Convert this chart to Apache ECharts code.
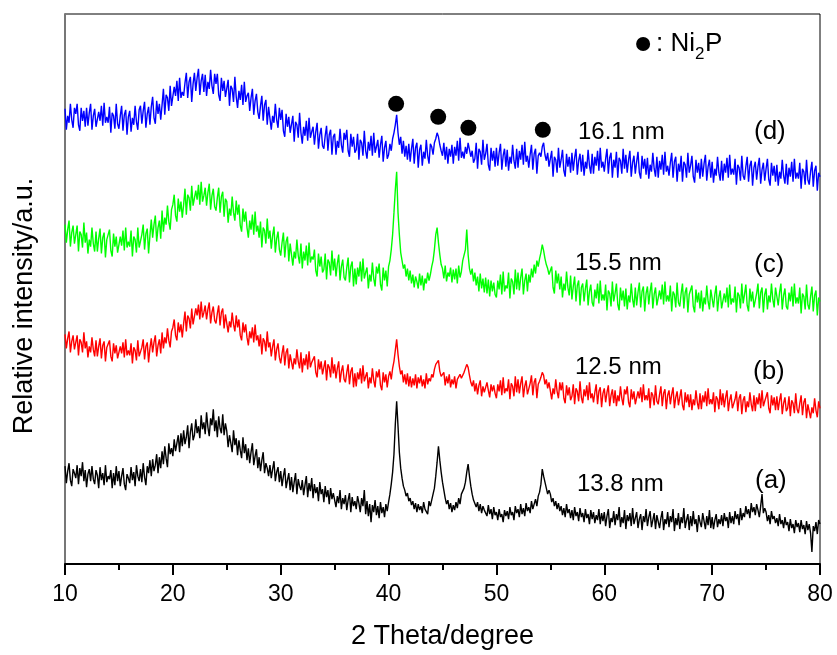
<!DOCTYPE html>
<html><head><meta charset="utf-8">
<script src="https://cdn.jsdelivr.net/npm/echarts@6/dist/echarts.min.js"></script>
<style>html,body{margin:0;padding:0;background:#fff}#c{width:837px;height:655px}</style>
</head><body><div id="c"></div>
<script>
// 2-theta grid: 10..80 deg, step 0.125 deg (8 readings per degree, one line per degree)
const THETA_START = 10, THETA_STEP = 0.125;
const xTicks = [10, 20, 30, 40, 50, 60, 70, 80];

// (a) 13.8 nm - black
const seriesA = [
98,81,93,101,84,78,95,91,
86,99,80,96,88,102,83,94,
77,90,95,83,98,85,80,94,
89,76,97,84,91,79,99,82,
88,85,94,76,91,79,98,83,
93,78,88,96,80,74,90,86,
81,97,84,92,78,99,88,83,
95,82,101,87,79,98,91,104,
88,105,93,99,110,91,107,96,
113,100,118,106,97,121,110,116,
108,125,113,121,129,112,131,118,
134,120,127,139,116,132,141,124,
129,145,131,138,126,149,135,142,
130,152,137,128,146,139,155,133,
144,127,148,136,131,150,129,141,
133,117,129,121,112,134,119,126,
109,124,114,106,127,111,120,104,
116,101,112,121,99,108,115,96,
107,93,104,112,91,101,96,88,
99,86,95,103,83,92,97,82,
93,78,88,96,76,84,91,74,
87,72,82,91,70,85,78,74,
84,69,79,88,67,81,73,86,
66,80,71,77,63,82,70,75,
62,78,67,74,60,76,65,71,
72,57,68,61,74,55,66,60,
69,54,64,71,52,67,58,63,
55,68,61,52,66,58,74,50,
63,48,60,42,59,52,64,49,
58,46,62,51,57,47,60,53,
62,70,80,92,110,140,163,138,
112,96,86,78,74,68,71,63,
66,59,63,55,61,52,60,54,
58,51,62,55,57,50,63,58,
64,70,76,88,102,118,104,92,
82,74,66,60,64,55,61,52,
59,54,62,56,66,60,70,68,
76,82,92,100,88,78,70,64,
66,57,62,53,60,51,58,54,
56,48,59,50,55,45,57,49,
52,44,55,47,50,42,54,48,
53,45,57,49,52,44,58,51,
55,47,60,50,56,48,61,53,
57,51,63,55,60,65,58,68,
72,80,95,88,82,76,70,74,
70,62,66,58,63,55,61,53,
58,49,56,47,60,51,55,46,
54,44,57,48,52,43,56,47,
51,42,55,46,50,40,54,45,
52,41,49,44,55,40,51,43,
52,38,48,55,36,46,42,53,
39,50,44,57,37,47,41,54,
35,49,43,51,38,56,40,46,
52,36,45,50,34,48,42,55,
38,47,53,37,44,51,35,49,
50,36,46,53,34,45,40,52,
37,48,42,55,33,46,39,51,
35,47,41,56,36,44,50,34,
48,38,53,40,45,32,49,42,
37,51,43,35,48,39,54,36,
47,35,44,50,37,45,40,49,
38,51,43,47,36,52,41,48,
40,53,45,50,39,56,44,51,
47,58,50,55,46,61,52,57,
49,60,54,47,58,70,51,56,
52,43,49,40,53,45,48,41,
46,38,50,40,44,36,47,39,
42,33,45,36,40,31,44,37,
41,32,44,35,39,30,43,34,
40,31,12,38,33,42,30,44,
40];

// (b) 12.5 nm - red
const seriesB = [
230,216,226,233,212,223,229,215,
217,229,209,225,222,212,232,216,
223,207,218,212,227,215,208,224,
208,218,226,206,219,223,203,217,
216,224,208,203,221,211,219,206,
204,218,211,222,207,225,209,214,
209,221,201,217,214,204,224,208,
207,217,225,205,218,222,202,216,
226,212,222,229,208,219,225,211,
232,216,227,221,236,224,217,233,
237,245,229,224,242,232,240,227,
241,253,233,249,246,236,256,240,
242,256,249,260,245,263,247,252,
259,245,255,262,241,252,258,244,
241,251,259,239,252,256,236,250,
248,232,243,237,252,240,233,249,
237,245,229,224,242,232,240,227,
219,233,226,237,222,240,224,229,
218,230,210,226,223,213,233,217,
222,208,218,225,204,215,221,207,
201,211,219,199,212,216,196,210,
211,195,206,200,215,203,196,212,
192,206,199,210,195,213,197,202,
200,208,192,187,205,195,203,190,
192,204,184,200,197,187,207,191,
200,186,196,203,182,193,199,185,
182,192,200,180,193,197,177,191,
178,192,185,196,181,199,183,188,
192,176,187,181,196,184,177,193,
187,195,179,174,192,182,190,177,
188,193,185,196,203,214,225,210,
198,190,194,182,190,180,191,178,
188,177,186,179,190,176,187,181,
189,178,185,176,191,180,186,183,
190,187,195,200,198,204,193,188,
186,192,179,188,181,190,177,185,
180,188,176,185,183,190,186,184,
192,196,200,197,189,182,178,184,
173,181,170,179,184,168,178,172,
170,182,174,167,180,173,179,171,
166,180,173,184,169,187,171,176,
173,185,165,181,178,168,188,172,
185,171,181,188,167,178,184,170,
171,181,189,169,182,186,166,180,
183,187,192,189,180,185,176,182,
181,165,176,170,185,173,166,182,
174,182,166,161,179,169,177,164,
168,180,160,176,173,163,183,167,
161,175,168,179,164,182,166,171,
162,172,180,160,173,177,157,171,
176,162,172,179,158,169,175,161,
174,158,169,163,178,166,159,175,
170,178,162,157,175,165,173,160,
159,173,166,177,162,180,164,169,
164,176,156,172,169,159,179,163,
160,170,178,158,171,175,155,169,
174,160,170,177,156,167,173,159,
167,175,159,154,172,162,170,157,
170,154,165,159,174,162,155,171,
155,169,162,173,158,176,160,165,
160,172,152,168,165,155,175,159,
171,157,167,174,153,164,170,156,
155,165,173,153,166,170,150,164,
168,152,163,157,172,160,153,169,
153,167,160,171,156,174,158,163,
164,172,156,151,169,159,167,154,
168,154,164,171,150,161,167,153,
156,168,148,164,161,151,171,155,
151,161,169,149,162,166,146,160,
162,146,157,151,166,154,147,163,
156];

// (c) 15.5 nm - green
const seriesC = [
340,322,335,344,318,332,339,321,
323,339,313,333,330,317,342,322,
332,311,325,318,337,321,313,333,
313,326,336,311,327,332,307,325,
325,335,314,308,331,318,328,312,
311,328,319,334,314,337,317,323,
318,334,308,328,325,312,337,317,
317,330,340,315,331,336,311,329,
345,327,340,349,323,337,344,326,
354,333,347,340,359,343,335,355,
360,370,349,343,366,353,363,347,
360,376,350,370,367,354,379,359,
357,374,365,380,360,383,363,369,
377,359,372,381,355,369,376,358,
354,367,377,352,368,373,348,366,
363,342,356,349,368,352,344,364,
350,360,339,333,356,343,353,337,
327,344,335,350,330,353,333,339,
327,343,317,337,334,321,346,326,
334,316,329,338,312,326,333,315,
309,322,332,307,323,328,303,321,
320,299,313,306,325,309,301,321,
296,313,304,319,299,322,302,308,
305,315,294,288,311,298,308,292,
295,311,285,305,302,289,314,294,
306,288,301,310,284,298,305,287,
284,297,307,282,298,303,278,296,
280,297,288,303,283,306,286,292,
297,276,290,283,302,286,278,298,
291,301,280,274,297,284,294,278,
298,304,315,330,352,375,393,352,
330,312,304,296,300,288,296,284,
294,281,290,277,288,283,276,291,
279,289,274,286,281,292,284,290,
298,304,315,330,337,322,310,300,
296,286,299,283,292,288,297,282,
295,285,296,281,299,287,293,304,
304,315,335,310,296,290,296,283,
292,279,288,273,291,276,286,272,
287,271,285,268,284,273,282,270,
267,284,275,290,270,293,273,279,
276,292,266,286,283,270,295,275,
292,274,287,296,270,284,291,273,
290,282,296,287,300,291,304,298,
306,312,320,314,306,300,296,290,
288,298,277,271,294,281,291,275,
288,267,281,274,293,277,269,289,
265,278,288,263,279,284,259,277,
281,263,276,285,259,273,280,262,
258,275,266,281,261,284,264,270,
264,280,254,274,271,258,283,263,
271,281,260,254,277,264,274,258,
276,255,269,262,281,265,257,277,
259,272,282,257,273,278,253,271,
278,260,273,282,256,270,277,259,
257,274,265,280,260,283,263,269,
263,279,253,273,270,257,282,262,
258,271,281,256,272,277,252,270,
269,279,258,252,275,262,272,256,
274,253,267,260,279,263,255,275,
275,257,270,279,253,267,274,256,
254,271,262,277,257,280,260,266,
262,278,252,272,269,256,281,261,
270,280,259,253,276,263,273,257,
258,271,281,256,272,277,252,270,
276,255,269,262,281,265,257,277,
277,259,272,281,255,269,276,258,
255,272,263,278,258,281,261,267,
261,277,251,271,268,255,280,260,
255,268,278,253,269,274,249,267,
263];

// (d) 16.1 nm - blue
const seriesD = [
456,435,449,442,461,445,437,457,
451,461,440,434,457,444,454,438,
457,439,452,461,435,449,456,438,
436,453,444,459,439,462,442,448,
442,458,432,452,449,436,461,441,
436,449,459,434,450,455,430,448,
454,433,447,440,459,443,435,455,
459,441,454,463,437,451,458,440,
458,468,447,441,464,451,461,445,
460,476,450,470,467,454,479,459,
461,478,469,484,464,487,467,473,
469,482,492,467,483,488,463,481,
492,474,487,496,470,484,491,473,
490,469,483,476,495,479,471,491,
481,491,470,464,487,474,484,468,
469,485,459,479,476,463,488,468,
457,474,465,480,460,483,463,469,
472,454,467,476,450,464,471,453,
446,459,469,444,460,465,440,458,
456,435,449,442,461,445,437,457,
445,455,434,428,451,438,448,432,
433,449,423,443,440,427,452,432,
421,438,429,444,424,447,427,433,
438,420,433,442,416,430,437,419,
416,429,439,414,430,435,410,428,
431,410,424,417,436,420,412,432,
425,435,414,408,431,418,428,412,
415,431,405,425,422,409,434,414,
406,423,414,429,409,432,412,418,
425,407,420,429,403,417,424,406,
410,421,414,426,432,440,450,432,
420,428,411,424,408,419,405,421,
403,416,426,401,417,422,397,415,
420,399,413,406,425,409,401,421,
418,410,422,426,432,428,420,414,
409,422,405,418,401,416,408,420,
401,418,409,424,404,427,407,413,
406,418,411,422,420,408,414,402,
406,422,396,416,413,400,425,405,
411,421,400,394,417,404,414,398,
417,399,412,421,395,409,416,398,
415,394,408,401,420,404,396,416,
397,414,405,420,400,423,403,409,
397,410,420,395,411,416,391,409,
412,408,418,422,410,404,412,398,
398,414,388,408,405,392,417,397,
405,415,394,388,411,398,408,392,
412,394,407,416,390,404,411,393,
410,389,403,396,415,399,391,411,
391,408,399,414,394,417,397,403,
393,406,416,391,407,412,387,405,
397,413,387,407,404,391,416,396,
410,392,405,414,388,402,409,391,
403,413,392,386,409,396,406,390,
407,386,400,393,412,396,388,408,
387,404,395,410,390,413,393,399,
389,402,412,387,403,408,383,401,
393,409,383,403,400,387,412,392,
399,409,388,382,405,392,402,386,
406,388,401,410,384,398,405,387,
403,382,396,389,408,392,384,404,
384,401,392,407,387,410,390,396,
390,406,380,400,397,384,409,389,
385,398,408,383,399,404,379,397,
403,385,398,407,381,395,402,384,
396,406,385,379,402,389,399,383,
400,379,393,386,405,389,381,401,
380,397,388,403,383,406,386,392,
386,402,376,396,393,380,405,385,
380,393,403,378,394,399,374,392,
388];

// Ni2P reflection markers
const markerTheta = [40.7, 44.6, 47.4, 54.3];
const markerLevel = [461, 448, 437, 435];
const legendDotTheta = [63.6];
const legendDotLevel = [521];

const theta = seriesA.map((_, i) => THETA_START + i * THETA_STEP);
const pair = arr => arr.map((v, i) => [theta[i], v]);

const FONT = '"Liberation Sans", Arial, sans-serif';
const chart = echarts.init(document.getElementById('c'), null, {renderer: 'canvas'});

function lineSeries(name, arr, color) {
  return {name, type: 'line', data: pair(arr), showSymbol: false, symbol: 'none',
    sampling: 'none', lineStyle: {color, width: 1.4}, itemStyle: {color}, z: 2, silent: true};
}

const option = {
  animation: false,
  backgroundColor: '#fff',
  grid: {left: 65, right: 17, top: 14, bottom: 90, show: true, borderColor: '#000', borderWidth: 1},
  xAxis: {
    type: 'value', min: 10, max: 80, interval: 10,
    name: '2 Theta/degree', nameLocation: 'middle', nameGap: 59,
    nameTextStyle: {fontSize: 27, fontFamily: FONT, color: '#000'},
    axisLine: {show: true, onZero: false, lineStyle: {color: '#000', width: 2}},
    axisTick: {show: true, inside: false, length: 11, lineStyle: {color: '#000', width: 2}},
    minorTick: {show: true, splitNumber: 2, length: 6, lineStyle: {color: '#000', width: 2}},
    axisLabel: {fontSize: 23, margin: 19, color: '#000',
      fontFamily: '"Liberation Sans Narrow", "Arial Narrow", ' + FONT,
      formatter: v => xTicks.includes(v) ? String(v) : ''},
    splitLine: {show: false}
  },
  yAxis: {
    type: 'value', min: 0, max: 551,
    axisLine: {show: true, lineStyle: {color: '#777', width: 2}},
    axisTick: {show: false}, axisLabel: {show: false}, splitLine: {show: false}
  },
  graphic: [
    {type: 'text', x: 25, y: 306, rotation: Math.PI / 2,
      style: {text: 'Relative intensity/a.u.', font: '27px ' + FONT, fill: '#000', align: 'center', verticalAlign: 'middle'}},
    {type: 'text', x: 656, y: 44, style: {text: ': Ni', font: '26px ' + FONT, fill: '#000', align: 'left', verticalAlign: 'middle'}},
    {type: 'text', x: 695, y: 54, style: {text: '2', font: '17px ' + FONT, fill: '#000', align: 'left', verticalAlign: 'middle'}},
    {type: 'text', x: 705, y: 44, style: {text: 'P', font: '26px ' + FONT, fill: '#000', align: 'left', verticalAlign: 'middle'}},
    {type: 'text', x: 578, y: 132, style: {text: '16.1 nm', font: '24px ' + FONT, fill: '#000', align: 'left', verticalAlign: 'middle'}},
    {type: 'text', x: 754, y: 132, style: {text: '(d)', font: '26px ' + FONT, fill: '#000', align: 'left', verticalAlign: 'middle'}},
    {type: 'text', x: 575, y: 263, style: {text: '15.5 nm', font: '24px ' + FONT, fill: '#000', align: 'left', verticalAlign: 'middle'}},
    {type: 'text', x: 754, y: 265, style: {text: '(c)', font: '26px ' + FONT, fill: '#000', align: 'left', verticalAlign: 'middle'}},
    {type: 'text', x: 575, y: 367, style: {text: '12.5 nm', font: '24px ' + FONT, fill: '#000', align: 'left', verticalAlign: 'middle'}},
    {type: 'text', x: 753, y: 372, style: {text: '(b)', font: '26px ' + FONT, fill: '#000', align: 'left', verticalAlign: 'middle'}},
    {type: 'text', x: 577, y: 484, style: {text: '13.8 nm', font: '24px ' + FONT, fill: '#000', align: 'left', verticalAlign: 'middle'}},
    {type: 'text', x: 755, y: 481, style: {text: '(a)', font: '26px ' + FONT, fill: '#000', align: 'left', verticalAlign: 'middle'}}
  ],
  series: [
    lineSeries('(a)', seriesA, '#000000'),
    lineSeries('(b)', seriesB, '#ff0000'),
    lineSeries('(c)', seriesC, '#00ff00'),
    lineSeries('(d)', seriesD, '#0000ff'),
    {name: 'Ni2P', type: 'scatter', symbol: 'circle', symbolSize: 16, z: 5, silent: true,
      itemStyle: {color: '#000', opacity: 1}, data: markerTheta.map((t, i) => [t, markerLevel[i]])},
    {name: 'Ni2P legend', type: 'scatter', symbol: 'circle', symbolSize: 14, z: 5, silent: true,
      itemStyle: {color: '#000', opacity: 1}, data: legendDotTheta.map((t, i) => [t, legendDotLevel[i]])}
  ]
};
chart.setOption(option);
</script></body></html>
